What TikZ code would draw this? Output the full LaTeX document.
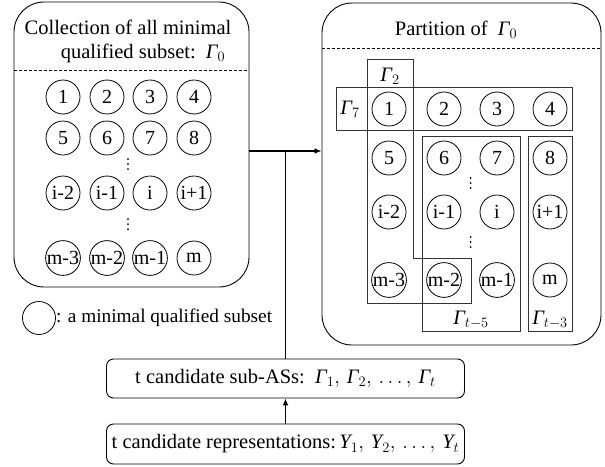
\documentclass[tikz,border=0pt]{standalone}
\usepackage{fontspec}
\setmainfont{Liberation Serif}
\usetikzlibrary{arrows.meta}
\newcommand{\Gam}{\textit{Γ}}
\newcommand{\Ups}{\textit{Υ}}

\begin{document}
\begin{tikzpicture}[x=1pt,y=-1pt,
  panel/.style={draw, line width=0.9pt, rounded corners=30pt, inner sep=0pt},
  setc/.style={draw, circle, line width=0.8pt, minimum size=34pt, inner sep=0pt,
               font=\fontsize{20}{20}\selectfont},
  part/.style={draw=black!80, line width=0.8pt},
  lbl/.style={font=\fontsize{20.5}{24}\selectfont, inner sep=0pt},
  stepbox/.style={draw, line width=0.9pt, rounded corners=7pt, minimum width=358pt,
                  inner sep=0pt, font=\fontsize{20.5}{24}\selectfont},
  link/.style={line width=1.8pt},
  arr/.style={line width=1.8pt, -{Latex[length=7pt,width=6pt]}},
  sep/.style={line width=0.7pt, dash pattern=on 3pt off 2pt}
]
\useasboundingbox (0,0) rectangle (605,466);

% the two panels
\node[panel, minimum width=235pt, minimum height=285pt] (left) at (131.5,144.5) {};
\node[panel, minimum width=279pt, minimum height=342pt] (right) at (461.5,174) {};
\draw[sep] (14,70) -- (249,70);
\draw[sep] (322,48) -- (601,48);

% panel titles
\node[lbl] (t1) at (128,27) {Collection of all minimal};
\node[lbl] (t2) at (143,53) {qualified subset:\ \ $\Gam_0$};
\node[lbl] (t3) at (456,30) {Partition of \ $\Gam_0$};

% minimal qualified subsets, left panel
\foreach \name/\txt/\x/\y in {
  l1/1/63/97, l2/2/107/97, l3/3/150/97, l4/4/194/97,
  l5/5/63/138, l6/6/107/138, l7/7/150/138, l8/8/194/138,
  l9/i-2/63/193, l10/i-1/107/193, l11/i/150/193, l12/i+1/194/193,
  l13/m-3/63/258, l14/m-2/107/258, l15/m-1/150/258, l16/m/194/258}
  \node[setc] (\name) at (\x,\y) {\txt};

% minimal qualified subsets, right panel
\foreach \name/\txt/\x/\y in {
  r1/1/389/109, r2/2/444/109, r3/3/497/109, r4/4/550/109,
  r5/5/389/158, r6/6/444/158, r7/7/497/158, r8/8/550/158,
  r9/i-2/389/212, r10/i-1/444/212, r11/i/497/212, r12/i+1/550/212,
  r13/m-3/389/280, r14/m-2/444/280, r15/m-1/497/280, r16/m/550/280}
  \node[setc] (\name) at (\x,\y) {\txt};

% vertical ellipses
\foreach \dx/\dy in {128/164, 128/224, 470.5/183, 470.5/242}
  \foreach \k in {-5,0,5}
    \fill (\dx,\dy+\k) circle (1pt);

% the sub-access structures
\draw[part] (367,59) -- (413,59) -- (413,258) -- (471,258) -- (471,303) -- (367,303) -- cycle;
\draw[part] (336,87) rectangle (572,130);
\draw[part] (422,136) rectangle (520,331);
\draw[part] (528,136) rectangle (572,331);
\node[lbl] (g2) at (390,76) {$\Gam_2$};
\node[lbl] (g7) at (350,109) {$\Gam_7$};
\node[lbl] (g5) at (471,320) {$\Gam_{t-5}$};
\node[lbl] (g3) at (550,320) {$\Gam_{t-3}$};

% legend
\node[setc, minimum size=33pt] (key) at (39,318) {};
\node[lbl, anchor=west, font=\fontsize{19.3}{24}\selectfont] (keytxt) at (key.east)
  {: a minimal qualified subset};

% candidate boxes
\node[stepbox, minimum height=39pt] (mid) at (285.5,378.5)
  {t candidate sub-ASs:\ \ $\Gam_1,\,\Gam_2,\,\dots,\,\Gam_t$};
\node[stepbox, minimum height=40pt] (bot) at (285.5,444)
  {t candidate representations:\,$\Ups_1,\,\Ups_2,\,\dots,\,\Ups_t$};

% connectors
\coordinate (j) at (285.5,151);
\draw[arr] (left.east |- j) -- (right.west |- j);
\draw[link] (mid.north) -- (j);
\draw[arr] (bot.north) -- (mid.south);
\end{tikzpicture}
\end{document}
